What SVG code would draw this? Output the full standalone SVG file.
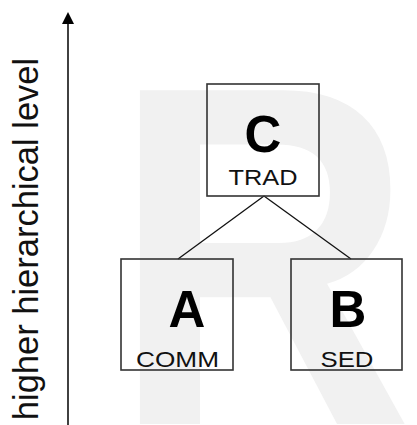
<svg xmlns="http://www.w3.org/2000/svg" width="417" height="425" viewBox="0 0 417 425">
<style>
.box{fill:none;stroke:#333;stroke-width:1.6}
.big{font-family:"Liberation Sans",Arial,sans-serif;font-weight:bold;font-size:51px;fill:#000;text-anchor:middle}
.lab{font-family:"Liberation Sans",Arial,sans-serif;font-size:22px;fill:#111;text-anchor:middle}
.con{stroke:#111;stroke-width:1.3;fill:none}
</style>
<defs>
<marker id="ah" viewBox="0 0 12 12" refX="0" refY="6" markerWidth="12" markerHeight="12" markerUnits="userSpaceOnUse" orient="auto">
<path d="M0,0 L12,6 L0,12 Z" fill="#000"/>
</marker>
</defs>
<rect width="417" height="425" fill="#fff"/>
<text transform="matrix(0.86 0 0 1 112 424)" font-family="Liberation Sans, Arial, sans-serif" font-weight="bold" font-size="485" fill="#f1f1f1">R</text>
<g id="axis">
<line x1="68" y1="425" x2="68" y2="24" stroke="#111" stroke-width="1.6" marker-end="url(#ah)"/>
<text transform="translate(38 239) rotate(-90)" font-family="Liberation Sans, Arial, sans-serif" font-size="34.5" fill="#111" text-anchor="middle">higher hierarchical level</text>
</g>
<g id="connectors">
<line class="con" x1="264" y1="196" x2="178" y2="259"/>
<line class="con" x1="264" y1="196" x2="351" y2="259"/>
</g>
<g id="node-C">
<rect class="box" x="207" y="84" width="112" height="112"/>
<text class="big" x="263" y="152">C</text>
<text class="lab" x="263" y="185" textLength="69" lengthAdjust="spacingAndGlyphs">TRAD</text>
</g>
<g id="node-A">
<rect class="box" x="121" y="259" width="112" height="111"/>
<text class="big" x="187" y="327">A</text>
<text class="lab" x="177.5" y="367" textLength="83" lengthAdjust="spacingAndGlyphs">COMM</text>
</g>
<g id="node-B">
<rect class="box" x="291" y="259" width="111" height="111"/>
<text class="big" x="348" y="327">B</text>
<text class="lab" x="347" y="367" textLength="53" lengthAdjust="spacingAndGlyphs">SED</text>
</g>
</svg>
